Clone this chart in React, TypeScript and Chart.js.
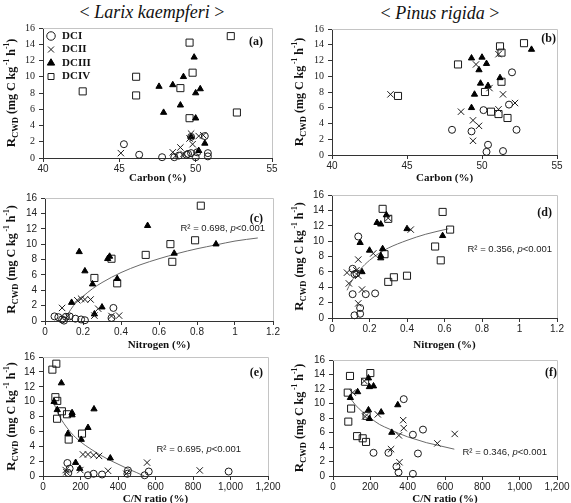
import React, { useEffect, useRef } from 'react';
import { Chart, registerables } from 'chart.js';
Chart.register(...registerables);

type Pt = [number, number];

// ---------- tick labels ----------
const carbonTicks = ['40', '45', '50', '55'];
const nitrogenTicks = ['0', '0.2', '0.4', '0.6', '0.8', '1', '1.2'];
const cnTicks = ['0', '200', '400', '600', '800', '1,000', '1,200'];
const rateTicks = ['0', '2', '4', '6', '8', '10', '12', '14', '16'];
const classNames = ['DCI', 'DCII', 'DCIII', 'DCIV'];

// ---------- (a) Larix, Carbon ----------
const aDCI: Pt[] = [[45.3, 1.7], [46.3, 0.4], [47.8, 0.1], [48.6, 0.1], [48.9, 0.3], [49.4, 0.4], [49.7, 0.6], [50.0, 0.1], [49.7, 2.6], [50.6, 2.7], [50.8, 0.6], [50.8, 0.2], [49.5, 0.5], [50.1, 0.7]];
const aDCII: Pt[] = [[45.1, 0.6], [48.5, 0.7], [49.0, 1.3], [49.7, 3.0], [49.8, 1.7], [50.2, 2.7], [50.5, 2.8], [48.7, 0.3], [49.6, 2.4], [49.2, 0.5]];
const aDCIII: Pt[] = [[49.9, 12.4], [49.2, 10.0], [47.6, 8.8], [48.5, 9.0], [50.0, 8.0], [50.3, 8.5], [49.0, 6.5], [47.9, 5.6], [50.0, 4.9], [49.7, 2.6], [50.6, 1.8], [50.2, 0.9]];
const aDCIV: Pt[] = [[42.6, 8.2], [46.1, 10.0], [46.1, 7.7], [49.6, 14.2], [49.8, 10.5], [49.0, 8.6], [49.6, 4.9], [52.3, 15.0], [52.7, 5.6]];

// ---------- (b) Pinus, Carbon ----------
const bDCI: Pt[] = [[48.0, 3.2], [49.3, 3.0], [50.1, 5.7], [52.0, 10.5], [51.8, 6.4], [52.3, 3.2], [50.4, 1.3], [50.3, 0.4], [51.4, 0.5]];
const bDCII: Pt[] = [[43.9, 7.7], [49.6, 11.5], [51.1, 12.8], [50.5, 8.5], [51.4, 7.7], [48.6, 5.5], [49.4, 4.4], [49.8, 3.7], [49.4, 1.8], [51.1, 5.8], [52.2, 6.6]];
const bDCIII: Pt[] = [[49.3, 12.3], [50.0, 12.4], [50.3, 11.6], [49.8, 10.8], [53.3, 13.4], [49.9, 9.1], [50.4, 8.8], [51.2, 9.8], [49.5, 7.7], [49.3, 6.0]];
const bDCIV: Pt[] = [[44.4, 7.5], [48.4, 11.5], [51.2, 13.8], [51.3, 13.0], [52.8, 14.2], [51.3, 9.3], [50.2, 8.0], [50.6, 5.5], [51.1, 5.2], [51.7, 4.7]];

// ---------- (c) Larix, Nitrogen ----------
const cDCI: Pt[] = [[0.05, 0.6], [0.07, 0.5], [0.09, 0.2], [0.1, 0.05], [0.11, 0.55], [0.13, 0.6], [0.16, 0.3], [0.19, 0.2], [0.21, 0.1], [0.36, 1.7], [0.35, 0.4]];
const cDCII: Pt[] = [[0.09, 1.7], [0.17, 2.7], [0.19, 2.9], [0.21, 2.8], [0.24, 2.8], [0.28, 1.6], [0.26, 0.7], [0.35, 0.65], [0.39, 0.7], [0.12, 0.6]];
const cDCIII: Pt[] = [[0.54, 12.4], [0.18, 9.0], [0.33, 8.1], [0.34, 8.4], [0.21, 6.5], [0.38, 5.5], [0.68, 8.8], [0.9, 10.0], [0.25, 4.8], [0.14, 2.4], [0.3, 1.8], [0.26, 0.9]];
const cDCIV: Pt[] = [[0.82, 15.0], [0.66, 10.0], [0.79, 10.5], [0.53, 8.6], [0.67, 7.7], [0.35, 8.1], [0.26, 5.6], [0.38, 4.9]];
const cTrend: Pt[] = [[0.12, 0.9], [0.15, 2.0], [0.2, 3.2], [0.25, 4.2], [0.3, 5.0], [0.4, 6.3], [0.5, 7.3], [0.6, 8.1], [0.7, 8.8], [0.8, 9.4], [0.9, 9.9], [1.0, 10.4], [1.12, 10.8]];

// ---------- (d) Pinus, Nitrogen ----------
const dDCI: Pt[] = [[0.14, 10.6], [0.11, 6.4], [0.13, 5.8], [0.12, 5.7], [0.11, 3.1], [0.18, 3.1], [0.23, 3.2], [0.15, 1.3], [0.15, 0.55], [0.12, 0.35]];
const dDCII: Pt[] = [[0.3, 13.0], [0.42, 11.5], [0.22, 8.4], [0.14, 7.6], [0.08, 5.9], [0.13, 6.2], [0.09, 4.5], [0.16, 3.7], [0.14, 1.9], [0.14, 5.5]];
const dDCIII: Pt[] = [[0.29, 13.4], [0.24, 12.4], [0.26, 12.2], [0.4, 11.6], [0.59, 10.7], [0.15, 9.8], [0.2, 8.8], [0.27, 9.0], [0.26, 7.8], [0.26, 8.1], [0.16, 6.0]];
const dDCIV: Pt[] = [[0.27, 14.2], [0.59, 13.8], [0.63, 11.5], [0.3, 12.9], [0.55, 9.3], [0.58, 7.5], [0.28, 8.3], [0.3, 4.7], [0.33, 5.3], [0.4, 5.5]];
const dTrend: Pt[] = [[0.08, 3.6], [0.1, 4.6], [0.15, 6.3], [0.2, 7.5], [0.25, 8.4], [0.3, 9.1], [0.4, 10.1], [0.5, 10.9], [0.62, 11.6]];

// ---------- (e) Larix, C/N ----------
const eDCI: Pt[] = [[130, 1.75], [142, 1.0], [240, 0.1], [270, 0.3], [315, 0.2], [453, 0.75], [542, 0.1], [564, 0.6], [990, 0.6], [135, 0.4], [450, 0.3]];
const eDCII: Pt[] = [[213, 2.9], [240, 2.9], [270, 2.8], [299, 2.7], [121, 0.8], [199, 0.8], [347, 0.7], [444, 0.3], [555, 1.8], [836, 0.75], [125, 0.5]];
const eDCIII: Pt[] = [[98, 12.5], [59, 10.0], [76, 8.9], [155, 8.5], [155, 8.2], [272, 9.0], [240, 6.5], [133, 5.7], [204, 4.9], [359, 2.4], [174, 1.8], [196, 1.0]];
const eDCIV: Pt[] = [[50, 14.3], [71, 15.1], [66, 10.6], [76, 10.1], [101, 8.7], [128, 8.3], [75, 7.7], [137, 4.9], [208, 5.7]];
const eTrend: Pt[] = [[55, 10.0], [80, 8.4], [100, 7.5], [150, 5.8], [200, 4.6], [250, 3.7], [300, 2.9], [350, 2.2], [400, 1.6], [450, 1.0], [500, 0.45], [540, 0]];

// ---------- (f) Pinus, C/N ----------
const fDCI: Pt[] = [[379, 10.6], [482, 6.4], [428, 5.7], [217, 3.2], [297, 3.2], [455, 3.1], [340, 1.3], [351, 0.5], [428, 0.3]];
const fDCII: Pt[] = [[168, 13.1], [106, 11.5], [172, 8.2], [240, 8.5], [376, 7.7], [379, 6.6], [353, 5.6], [311, 3.7], [356, 1.9], [559, 4.5], [652, 5.8]];
const fDCIII: Pt[] = [[190, 13.5], [195, 12.3], [217, 12.4], [132, 11.6], [93, 10.8], [347, 9.8], [190, 9.1], [258, 8.8], [195, 7.9], [315, 6.0]];
const fDCIV: Pt[] = [[91, 13.8], [200, 14.2], [172, 13.0], [79, 11.5], [97, 9.3], [82, 7.5], [129, 5.5], [159, 5.2], [177, 4.7], [180, 8.3]];
const fTrend: Pt[] = [[88, 10.9], [120, 9.8], [160, 8.8], [200, 8.0], [250, 7.1], [300, 6.5], [350, 5.9], [400, 5.4], [450, 5.0], [500, 4.6], [550, 4.3], [600, 4.0], [650, 3.7]];

// ---------- styles ----------
const SERIF = '"Liberation Serif", "DejaVu Serif", serif';
const SANS = '"Liberation Sans", Arial, sans-serif';
const INK = '#1a1a1a';

const markerStyles: any[] = [
  { pointStyle: 'circle', pointRadius: 3.5, pointBorderColor: INK, pointBackgroundColor: 'rgba(0,0,0,0)', borderColor: INK, backgroundColor: 'rgba(0,0,0,0)', pointBorderWidth: 1, borderWidth: 1 },
  { pointStyle: 'crossRot', pointRadius: 4.5, pointBorderColor: INK, pointBackgroundColor: INK, borderColor: INK, backgroundColor: INK, pointBorderWidth: 1, borderWidth: 1 },
  { pointStyle: 'triangle', pointRadius: 3.6, pointBorderColor: '#000', pointBackgroundColor: '#000', borderColor: '#000', backgroundColor: '#000', pointBorderWidth: 1, borderWidth: 1 },
  { pointStyle: 'rect', pointRadius: 5, pointBorderColor: INK, pointBackgroundColor: 'rgba(0,0,0,0)', borderColor: INK, backgroundColor: 'rgba(0,0,0,0)', pointBorderWidth: 1, borderWidth: 1 },
];

// ---------- plugins ----------
const framePlugin = {
  id: 'frame',
  beforeDatasetsDraw(chart: any) {
    const { ctx, chartArea: a } = chart;
    ctx.save();
    ctx.strokeStyle = '#c4c4c4';
    ctx.lineWidth = 1;
    ctx.beginPath();
    ctx.moveTo(a.left, Math.round(a.top) + 0.5);
    ctx.lineTo(Math.round(a.right) + 0.5, Math.round(a.top) + 0.5);
    ctx.lineTo(Math.round(a.right) + 0.5, a.bottom);
    ctx.stroke();
    ctx.restore();
  },
};

const yTitlePlugin = {
  id: 'ytitle',
  afterDraw(chart: any, _args: any, opts: any) {
    const { ctx, chartArea } = chart;
    const segs = [
      { t: 'R', size: 13, dy: 0 },
      { t: 'CWD', size: 8.5, dy: 3.5 },
      { t: ' (mg C kg', size: 12, dy: 0 },
      { t: ' -1', size: 7.5, dy: -4.5 },
      { t: ' h', size: 12, dy: 0 },
      { t: '-1', size: 7.5, dy: -4.5 },
      { t: ')', size: 12, dy: 0 },
    ];
    ctx.save();
    let total = 0;
    const widths: number[] = [];
    for (const s of segs) {
      ctx.font = `bold ${s.size}px ${SERIF}`;
      const w = ctx.measureText(s.t).width;
      widths.push(w);
      total += w;
    }
    const cy = (chartArea.top + chartArea.bottom) / 2;
    ctx.translate(opts.x, cy);
    ctx.rotate(-Math.PI / 2);
    ctx.textBaseline = 'middle';
    ctx.textAlign = 'left';
    ctx.fillStyle = '#111';
    let x = -total / 2;
    segs.forEach((s, i) => {
      ctx.font = `bold ${s.size}px ${SERIF}`;
      ctx.fillText(s.t, x, s.dy);
      x += widths[i];
    });
    ctx.restore();
  },
};

const annotPlugin = {
  id: 'annot',
  afterDraw(chart: any, _args: any, opts: any) {
    const { ctx, chartArea } = chart;
    for (const item of opts.items || []) {
      ctx.save();
      ctx.textBaseline = 'middle';
      ctx.textAlign = 'left';
      ctx.fillStyle = item.color || '#111';
      let total = 0;
      const widths: number[] = [];
      for (const s of item.segs) {
        ctx.font = s.font;
        const w = ctx.measureText(s.t).width;
        widths.push(w);
        total += w;
      }
      let x = chartArea.right - item.dx - total;
      const y = chartArea.top + item.dy;
      item.segs.forEach((s: any, i: number) => {
        ctx.font = s.font;
        ctx.fillText(s.t, x, y);
        x += widths[i];
      });
      ctx.restore();
    }
  },
};

// ---------- panel specs ----------
interface Spec {
  box: { x: number; y: number; w: number; h: number };
  area: { l: number; t: number; r: number; b: number };
  xMin: number; xMax: number; xStep: number; xLabels: string[]; xTitle: string;
  yTickFamily: string; xTickFamily: string;
  series: Pt[][]; trend?: Pt[];
  letter: string; letterPos: [number, number];
  r2?: { text: string; dx: number; dy: number };
  legend: boolean; yTitleX: number; xTitleOffset: number;
}

const r2Segs = (txt: string) => {
  const f = `9.5px ${SANS}`;
  return [
    { t: `R² = ${txt}, `, font: f },
    { t: 'p', font: `italic 9.5px ${SANS}` },
    { t: '<0.001', font: f },
  ];
};

const specs: Spec[] = [
  { box: { x: 0, y: 15, w: 285, h: 177 }, area: { l: 43, t: 28, r: 272, b: 158 }, xMin: 40, xMax: 55, xStep: 5, xLabels: carbonTicks, xTitle: 'Carbon (%)', yTickFamily: SERIF, xTickFamily: SANS, series: [aDCI, aDCII, aDCIII, aDCIV], letter: '(a)', letterPos: [9, 14], legend: true, yTitleX: 12, xTitleOffset: 14 },
  { box: { x: 285, y: 15, w: 286, h: 177 }, area: { l: 332, t: 29, r: 557, b: 155 }, xMin: 40, xMax: 55, xStep: 5, xLabels: carbonTicks, xTitle: 'Carbon (%)', yTickFamily: SERIF, xTickFamily: SANS, series: [bDCI, bDCII, bDCIII, bDCIV], letter: '(b)', letterPos: [1, 10], legend: false, yTitleX: 15, xTitleOffset: 14 },
  { box: { x: 0, y: 180, w: 285, h: 172 }, area: { l: 45, t: 198, r: 273, b: 321 }, xMin: 0, xMax: 1.2, xStep: 0.2, xLabels: nitrogenTicks, xTitle: 'Nitrogen (%)', yTickFamily: SANS, xTickFamily: SANS, series: [cDCI, cDCII, cDCIII, cDCIV], trend: cTrend, letter: '(c)', letterPos: [10, 21], r2: { text: '0.698', dx: 8, dy: 30 }, legend: false, yTitleX: 12, xTitleOffset: 7 },
  { box: { x: 285, y: 180, w: 286, h: 172 }, area: { l: 332, t: 195, r: 557, b: 318 }, xMin: 0, xMax: 1.2, xStep: 0.2, xLabels: nitrogenTicks, xTitle: 'Nitrogen (%)', yTickFamily: SANS, xTickFamily: SANS, series: [dDCI, dDCII, dDCIII, dDCIV], trend: dTrend, letter: '(d)', letterPos: [5, 18], r2: { text: '0.356', dx: 5, dy: 54 }, legend: false, yTitleX: 15, xTitleOffset: 7 },
  { box: { x: 0, y: 345, w: 285, h: 158 }, area: { l: 43, t: 357, r: 268, b: 476 }, xMin: 0, xMax: 1200, xStep: 200, xLabels: cnTicks, xTitle: 'C/N ratio (%)', yTickFamily: SANS, xTickFamily: SANS, series: [eDCI, eDCII, eDCIII, eDCIV], trend: eTrend, letter: '(e)', letterPos: [5, 16], r2: { text: '0.695', dx: 27, dy: 92 }, legend: false, yTitleX: 12, xTitleOffset: 4 },
  { box: { x: 285, y: 345, w: 286, h: 158 }, area: { l: 333, t: 360, r: 557, b: 476 }, xMin: 0, xMax: 1200, xStep: 200, xLabels: cnTicks, xTitle: 'C/N ratio (%)', yTickFamily: SANS, xTickFamily: SANS, series: [fDCI, fDCII, fDCIII, fDCIV], trend: fTrend, letter: '(f)', letterPos: [0, 13], r2: { text: '0.346', dx: 10, dy: 92 }, legend: false, yTitleX: 15, xTitleOffset: 4 },
];

function buildConfig(s: Spec): any {
  const pt = s.area.t - s.box.y;
  const pr = s.box.x + s.box.w - s.area.r;
  const yw = s.area.l - s.box.x;
  const xh = s.box.y + s.box.h - s.area.b;
  const titleSize = 11;
  const datasets: any[] = s.series.map((pts, i) => ({
    label: classNames[i],
    data: pts.map(([x, y]) => ({ x, y })),
    ...markerStyles[i],
    clip: 8,
  }));
  if (s.trend) {
    datasets.push({
      label: 'trend',
      data: s.trend.map(([x, y]) => ({ x, y })),
      showLine: true,
      pointRadius: 0,
      borderColor: '#6a6a6a',
      borderWidth: 1,
      cubicInterpolationMode: 'monotone',
      fill: false,
    });
  }
  const items: any[] = [
    { segs: [{ t: s.letter, font: `bold 12px ${SERIF}` }], dx: s.letterPos[0], dy: s.letterPos[1] },
  ];
  if (s.r2) items.push({ segs: r2Segs(s.r2.text), dx: s.r2.dx, dy: s.r2.dy, color: '#222' });

  return {
    type: 'scatter',
    data: { datasets },
    options: {
      responsive: false,
      animation: false,
      events: [],
      layout: { padding: { top: pt, right: pr, left: 0, bottom: 0 } },
      scales: {
        x: {
          type: 'linear',
          min: s.xMin,
          max: s.xMax,
          ticks: {
            stepSize: s.xStep,
            autoSkip: false,
            maxRotation: 0,
            padding: 1,
            color: '#222',
            font: { family: s.xTickFamily, size: 10 },
            callback: (_v: any, i: number) => s.xLabels[i],
          },
          grid: { drawOnChartArea: false, drawTicks: true, tickLength: 4, color: '#333' },
          border: { color: '#333', width: 1 },
          title: {
            display: true,
            text: s.xTitle,
            color: '#111',
            font: { family: SERIF, weight: 'bold', size: titleSize, lineHeight: 1 },
            padding: { top: 0, bottom: s.xTitleOffset - titleSize / 2 },
          },
          afterFit: (sc: any) => { sc.height = xh; },
        },
        y: {
          type: 'linear',
          min: 0,
          max: 16,
          ticks: {
            stepSize: 2,
            autoSkip: false,
            padding: 4,
            color: '#222',
            font: { family: s.yTickFamily, size: 10 },
            callback: (_v: any, i: number) => rateTicks[i],
          },
          grid: { drawOnChartArea: false, drawTicks: true, tickLength: 4, color: '#333' },
          border: { color: '#333', width: 1 },
          afterFit: (sc: any) => { sc.width = yw; },
        },
      },
      plugins: {
        tooltip: { enabled: false },
        legend: s.legend
          ? {
              display: true,
              position: 'chartArea',
              align: 'start',
              title: { display: true, text: ' ', font: { size: 1, lineHeight: 1 }, padding: { top: 12, bottom: 0 } },
              labels: {
                usePointStyle: true,
                boxWidth: 12,
                boxHeight: 6,
                padding: 2.5,
                color: '#111',
                font: { family: SERIF, weight: 'bold', size: 11, lineHeight: 1.15 },
                filter: (it: any) => it.text !== 'trend',
              },
            }
          : { display: false },
        ytitle: { x: s.yTitleX },
        annot: { items },
      },
    },
    plugins: [framePlugin, yTitlePlugin, annotPlugin],
  };
}

function Panel({ spec }: { spec: Spec }) {
  const ref = useRef<HTMLCanvasElement>(null);
  useEffect(() => {
    if (!ref.current) return;
    const chart = new Chart(ref.current, buildConfig(spec));
    return () => chart.destroy();
  }, [spec]);
  const { x, y, w, h } = spec.box;
  return (
    <div style={{ position: 'absolute', left: x, top: y, width: w, height: h }}>
      <canvas ref={ref} width={w} height={h} style={{ width: w, height: h, display: 'block' }} />
    </div>
  );
}

export default function App() {
  return (
    <div style={{ position: 'absolute', left: 0, top: 0, width: 571, height: 503, background: '#fff', overflow: 'hidden' }}>
      <div style={{ position: 'absolute', left: 0, top: 0, width: 304, height: 24, lineHeight: '24px', textAlign: 'center', fontFamily: SERIF, fontSize: 18, color: '#111' }}>
        {'< '}<i>Larix kaempferi</i>{' >'}
      </div>
      <div style={{ position: 'absolute', left: 340, top: 1, width: 200, height: 24, lineHeight: '24px', textAlign: 'center', fontFamily: SERIF, fontSize: 18, color: '#111' }}>
        {'< '}<i>Pinus rigida</i>{' >'}
      </div>
      {specs.map((s, i) => (
        <Panel key={i} spec={s} />
      ))}
    </div>
  );
}
